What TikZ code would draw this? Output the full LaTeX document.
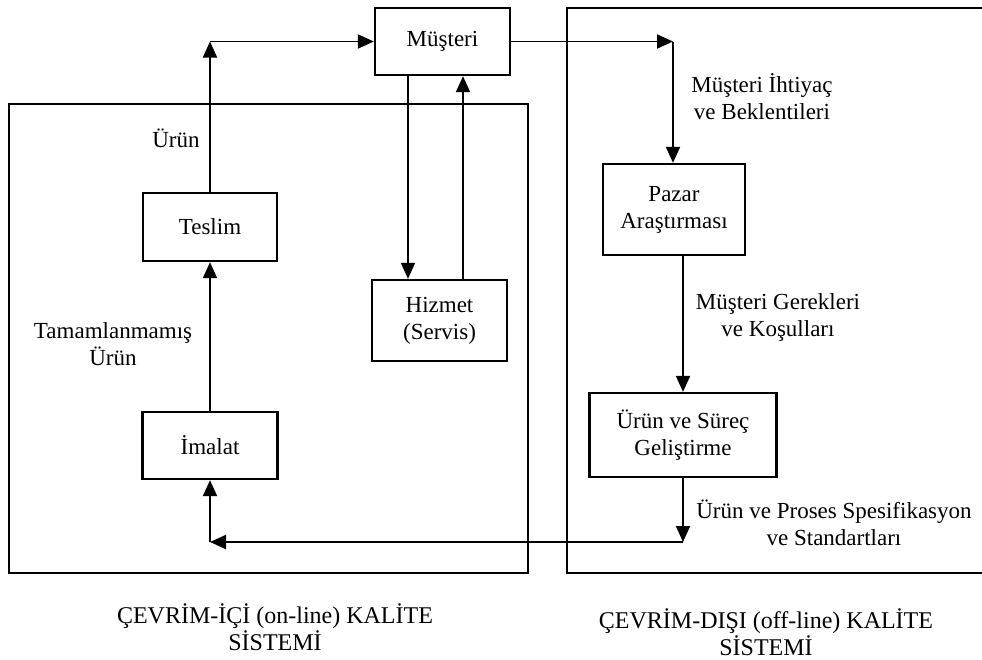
\documentclass[tikz,border=0pt]{standalone}
\usepackage{fontspec}
\setmainfont{Liberation Serif}
\usetikzlibrary{arrows.meta}
\newcommand\myfs{\fontsize{23}{27}\selectfont}
\newcommand\mybig{\fontsize{24}{27}\selectfont}
\begin{document}
\begin{tikzpicture}[x=1pt,y=-1pt,
  box/.style={draw,line width=2.3pt,align=center,font=\myfs,inner sep=0pt},
  frm/.style={line width=2pt},
  arr/.style={line width=1.9pt,-{Triangle[length=16pt,width=14pt]}},
  lbl/.style={align=center,font=\myfs,inner sep=0pt},
  caplbl/.style={align=center,font=\mybig,inner sep=0pt}]
\useasboundingbox (0,0) rectangle (982,659);
\fill[white] (0,0) rectangle (982,659);
% frames
\draw[frm] (9,104) rectangle (528,573);
\draw[frm] (982,8) -- (567,8) -- (567,573) -- (982,573);
% boxes
\node[box,minimum width=135pt,minimum height=67pt] (mus) at (442.5,41.5) {Müşteri};
\node[box,minimum width=134pt,minimum height=68pt] (tes) at (210,227) {Teslim};
\node[box,minimum width=135pt,minimum height=81pt] (hiz) at (439.5,320.5) {Hizmet\\(Servis)};
\node[box,minimum width=135pt,minimum height=67pt] (ima) at (210,445.5) {İmalat};
\node[box,minimum width=142pt,minimum height=91pt] (paz) at (674,209.5) {Pazar\\Araştırması};
\node[box,minimum width=187pt,minimum height=84pt] (ure) at (683,435) {Ürün ve Süreç\\Geliştirme};
% corner coordinates
\coordinate (c1) at (210,41.5);
\coordinate (c2) at (673,41.5);
\coordinate (c3) at (683,542);
\coordinate (c4) at (210,542);
% connectors
\draw[arr] (tes.north) -- (c1);
\draw[arr] (c1) -- (mus.west);
\draw[arr] (mus.east) -- (c2);
\draw[arr] (c2) -- (c2 |- paz.north);
\draw[arr] ([xshift=-34.5pt]mus.south) -- ([xshift=-34.5pt]mus.south |- hiz.north);
\draw[arr] ([xshift=20.5pt]mus.south |- hiz.north) -- ([xshift=20.5pt]mus.south);
\draw[arr] (paz.south -| ure.north) -- (ure.north);
\draw[arr] (ure.south) -- (c3);
\draw[arr] (c3) -- (c4);
\draw[arr] (c4) -- (ima.south);
\draw[arr] (ima.north) -- (tes.south);
% labels
\node[lbl,anchor=base] (l1) at (176,147) {Ürün};
\node[lbl] (l2) at (113,344) {Tamamlanmamış\\Ürün};
\node[lbl] (l3) at (762,96.5) {Müşteri İhtiyaç\\ve Beklentileri};
\node[lbl] (l4) at (778,317) {Müşteri Gerekleri\\ve Koşulları};
\node[lbl] (l5) at (834,523) {Ürün ve Proses Spesifikasyon\\ve Standartları};
\node[caplbl] (l6) at (275,627) {ÇEVRİM-İÇİ (on-line) KALİTE\\SİSTEMİ};
\node[caplbl] (l7) at (766,632) {ÇEVRİM-DIŞI (off-line) KALİTE\\SİSTEMİ};
\end{tikzpicture}
\end{document}
